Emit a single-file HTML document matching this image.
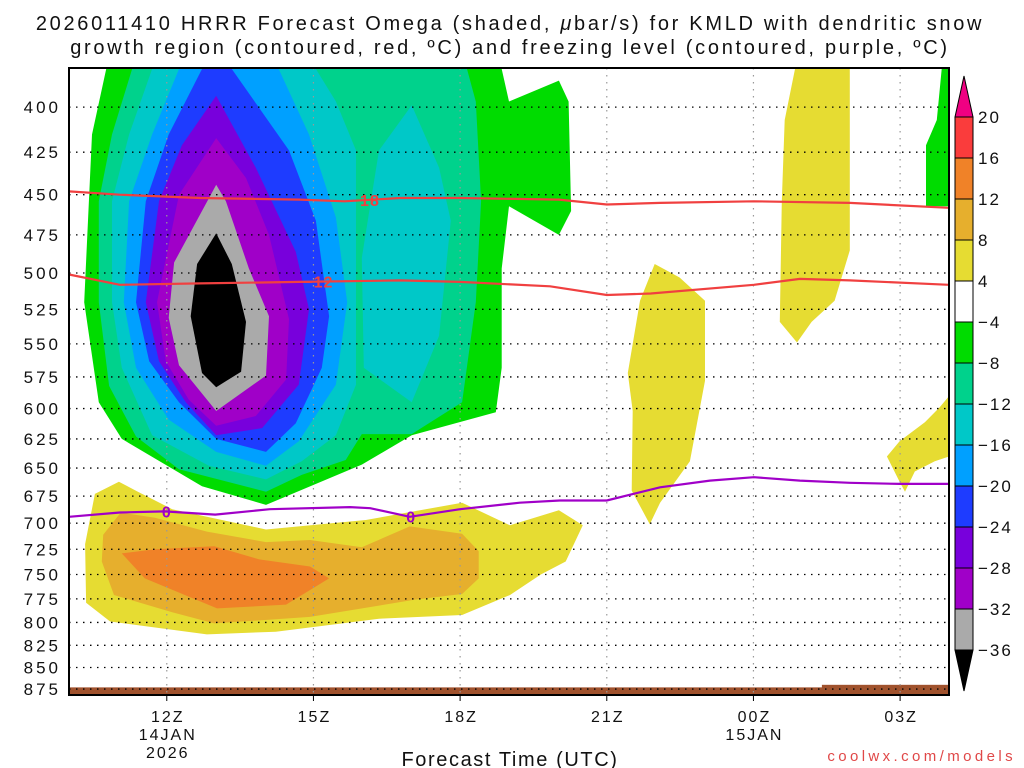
<!DOCTYPE html>
<html><head><meta charset="utf-8"><title>HRRR Omega KMLD</title>
<style>
html,body{margin:0;padding:0;background:#fff;}
svg{display:block;font-family:"Liberation Sans","DejaVu Sans",sans-serif;}
</style></head>
<body>
<svg id="chart" width="1024" height="768" viewBox="0 0 1024 768" xmlns="http://www.w3.org/2000/svg">
<g id="title" font-size="20" fill="#111" text-anchor="middle" letter-spacing="2.7">
<text x="510" y="30">2026011410 HRRR Forecast Omega (shaded, <tspan font-style="italic">μ</tspan>bar/s) for KMLD with dendritic snow</text>
<text x="510" y="54">growth region (contoured, red, ºC) and freezing level (contoured, purple, ºC)</text>
</g>
<g id="fills"></g>
<g id="grid"></g>
<g id="lines"></g>
<g id="axes"></g>
<g id="cbar"></g>
<text x="510" y="766" font-size="20" text-anchor="middle" fill="#111" letter-spacing="1.6">Forecast Time (UTC)</text>
<text x="1016" y="761" font-size="15" text-anchor="end" fill="#e04848" letter-spacing="3.4">coolwx.com/models</text>
</svg>
<script>
// ---- axis domain ----
const hourMin = 10, hourMax = 28;
const pTop = 379.5, pBot = 882;
const pressureTicks = [400,425,450,475,500,525,550,575,600,625,650,675,700,725,750,775,800,825,850,875];
const timeTicks = [12,15,18,21,24,27];
const timeLabels = [["12Z","14JAN","2026"],["15Z"],["18Z"],["21Z"],["00Z","15JAN"],["03Z"]];
// ---- shaded omega contour regions (hour, hPa) ----
const regGreen = [[10.76,380],[18.85,380],[19.0,397],[20.02,386],[20.22,397],[20.27,460],[20.02,475],[19.0,457],[18.85,497],[18.85,568],[18.73,603],[17.01,622],[15.99,647],[14.03,683],[12.72,666],[11.08,625],[10.61,595],[10.31,520],[10.47,415]];
const regGreenRight = [[27.85,380],[28,380],[28,457],[27.53,457],[27.53,421],[27.75,407]];
const regTeal = [[11.29,380],[18.14,380],[18.32,397],[18.43,454],[18.32,520],[18.04,595],[17.01,621],[15.99,621],[15.66,643],[14.76,656],[14.03,671],[12.25,651],[11.37,623],[10.82,582],[10.61,520],[10.61,454],[10.88,415]];
const regCyan = [[11.70,380],[15.05,380],[15.46,397],[15.87,424],[15.87,581],[15.46,622],[14.76,644],[14.03,660],[12.86,648],[11.70,622],[11.08,568],[10.88,520],[10.88,454],[11.23,415]];
const regCyanRight = [[17.01,399],[17.57,434],[17.81,466],[17.57,544],[17.01,595],[16.03,568],[15.99,490],[16.34,424]];
const regLightBlue = [[12.25,380],[14.29,380],[14.91,415],[15.46,464],[15.69,520],[15.46,581],[14.70,627],[14.03,648],[13.01,636],[12.04,609],[11.37,568],[11.12,520],[11.23,454],[11.70,415]];
const regBlue = [[12.72,380],[13.33,380],[14.50,424],[15.05,466],[15.32,530],[15.17,568],[14.64,612],[14.03,636],[13.01,625],[12.25,595],[11.64,563],[11.37,520],[11.57,454],[12.04,415]];
const regPurple = [[13.01,394],[13.82,434],[14.64,486],[14.91,525],[14.70,581],[13.95,616],[13.01,622],[12.39,595],[11.84,563],[11.57,520],[11.84,454],[12.31,421]];
const regViolet = [[13.01,417],[13.62,440],[14.09,475],[14.50,532],[14.44,577],[13.82,606],[13.01,614],[12.45,593],[11.98,563],[11.80,520],[12.25,450]];
const regGray = [[13.01,444],[13.21,454],[13.68,497],[14.09,530],[14.03,574],[13.01,602],[12.25,566],[12.04,531],[12.15,493]];
const regBlack = [[13.01,474],[13.33,494],[13.62,534],[13.52,571],[13.01,583],[12.72,572],[12.49,530],[12.62,494]];
const regYellow = [[11.02,662],[11.41,671],[12.11,687],[14.03,706],[16.07,697],[18.04,681],[19.02,702],[20.02,688],[20.51,702],[20.16,737],[19.65,750],[19.02,771],[18.04,792],[16.34,796],[14.23,810],[12.82,813],[10.84,799],[10.35,779],[10.33,720],[10.53,673]];
const regGold = [[11.06,690],[11.76,695],[12.82,708],[14.03,718],[14.93,716],[15.99,723],[16.97,703],[18.04,710],[18.38,727],[18.38,754],[18.04,770],[17.06,776],[14.93,794],[12.97,801],[12.11,789],[10.92,771],[10.67,737],[10.70,711]];
const regOrange = [[11.08,729],[11.76,725],[12.97,722],[13.89,735],[14.93,742],[15.32,754],[14.44,781],[13.03,785],[11.55,754]];
const regYellow21 = [[21.98,494],[22.49,503],[23.01,519],[23.01,578],[22.70,644],[22.09,681],[21.88,701],[21.51,670],[21.53,602],[21.43,572],[21.68,519]];
const regYellow01 = [[24.85,380],[25.97,380],[25.97,485],[25.66,519],[25.19,534],[24.89,549],[24.54,534],[24.58,454],[24.64,407]];
const regYellow03 = [[28,590],[28,640],[27.71,644],[27.30,653],[27.10,671],[26.99,662],[26.73,640],[26.99,627],[27.51,611],[27.81,599]];
// ---- contour lines (hour, hPa) ----
const lineFreezing = [[10,694],[11.04,690],[11.96,689],[12.99,692],[14.11,687],[15.75,685],[16.16,686],[16.97,694],[18.0,687],[19.22,681],[20.04,679],[21.0,679],[22.09,667],[23.11,661],[24.01,658],[24.95,661],[25.97,663],[26.99,664],[28,664]];
const lineM18 = [[10,448],[11.04,450],[12.68,452],[14.72,453],[15.64,454],[16.77,452],[18,452],[20.02,453],[21,456],[22.09,455],[24.01,454],[25.97,455],[28,458]];
const lineM12 = [[10,501],[11.04,508],[12.68,507],[14.72,506],[16.77,505],[18,506],[19.84,509],[21,515],[21.9,514],[24.01,508],[24.95,504],[25.97,505],[28,508]];
const freezingLabelHours = [12.0, 17.0];
const m18LabelHour = [16.05];
const m12LabelHour = [15.1];
// ---- colorbar ----
const cbarLevels = ["20","16","12","8","4","−4","−8","−12","−16","−20","−24","−28","−32","−36"];
const cbarColors = ["#fa3c3c","#f08228","#e6af2d","#e6dc32","#ffffff","#00dc00","#00d28c","#00c8c8","#00a0ff","#1e3cff","#7800dc","#a000c8","#aaaaaa"];

const X0=69, X1=949, Y0=68, Y1=695;
const NS="http://www.w3.org/2000/svg";
function xs(h){return X0+(h-hourMin)/(hourMax-hourMin)*(X1-X0);}
function ys(p){return Y0+Math.log(p/pTop)/Math.log(pBot/pTop)*(Y1-Y0);}
function mk(tag,attrs,parent){const e=document.createElementNS(NS,tag);for(const k in attrs)e.setAttribute(k,attrs[k]);parent.appendChild(e);return e;}
function pts(arr){return arr.map(d=>xs(d[0]).toFixed(1)+","+ys(d[1]).toFixed(1)).join(" ");}

const fills=document.getElementById("fills");
const clip=mk("clipPath",{id:"plotclip"},fills);
mk("rect",{x:X0,y:Y0,width:X1-X0,height:Y1-Y0},clip);
fills.setAttribute("clip-path","url(#plotclip)");
const regions=[
 [regGreen,"#00dc00","region-omega-minus4"],[regGreenRight,"#00dc00","region-omega-minus4-right"],
 [regTeal,"#00d28c","region-omega-minus8"],[regCyan,"#00c8c8","region-omega-minus12"],[regCyanRight,"#00c8c8","region-omega-minus12-right"],
 [regLightBlue,"#00a0ff","region-omega-minus16"],[regBlue,"#1e3cff","region-omega-minus20"],[regPurple,"#7800dc","region-omega-minus24"],
 [regViolet,"#a000c8","region-omega-minus28"],[regGray,"#aaaaaa","region-omega-minus32"],[regBlack,"#000000","region-omega-minus36"],
 [regYellow,"#e6dc32","region-omega-plus4"],[regGold,"#e6af2d","region-omega-plus8"],[regOrange,"#f08228","region-omega-plus12"],
 [regYellow21,"#e6dc32","region-omega-plus4-21z"],[regYellow01,"#e6dc32","region-omega-plus4-01z"],[regYellow03,"#e6dc32","region-omega-plus4-03z"]];
regions.forEach(r=>{
 const el=mk("polygon",{points:pts(r[0]),fill:r[1]},fills);
 
 
});
// ground
const g1=mk("rect",{x:X0,y:ys(873),width:X1-X0,height:Y1-ys(873),fill:"#a0522d"},fills);


const g2=mk("rect",{x:xs(25.4),y:ys(870),width:X1-xs(25.4),height:Y1-ys(870),fill:"#a0522d"},fills);



// grid
const grid=document.getElementById("grid");
pressureTicks.forEach(p=>{
 const l=mk("line",{x1:X0,x2:X1,y1:ys(p),y2:ys(p),stroke:"#000","stroke-width":1.3,"stroke-dasharray":"1.5 5.5"},grid);
 
 
});
timeTicks.forEach(h=>{
 const l=mk("line",{x1:xs(h),x2:xs(h),y1:Y0,y2:Y1,stroke:"#999","stroke-width":1.2,"stroke-dasharray":"1.5 5.5"},grid);
 
 
});

// contour lines
const lines=document.getElementById("lines");
function drawLine(arr,color,name,labHours,lab){
 const pl=mk("polyline",{points:pts(arr),fill:"none",stroke:color,"stroke-width":2.2},lines);
 
 
 labHours.forEach(h=>{
  let p=arr[0][1];
  for(let i=0;i<arr.length-1;i++){if(h>=arr[i][0]&&h<=arr[i+1][0]){const t=(h-arr[i][0])/(arr[i+1][0]-arr[i][0]);p=arr[i][1]+t*(arr[i+1][1]-arr[i][1]);}}
  const t=mk("text",{x:xs(h),y:ys(p)+6,"font-size":16,"font-weight":"bold","text-anchor":"middle",fill:color,"letter-spacing":1},lines);
  t.textContent=lab;
  
  
 });
}
drawLine(lineM18,"#f04040","contour-minus18",m18LabelHour,"−18");
drawLine(lineM12,"#f04040","contour-minus12",m12LabelHour,"−12");
drawLine(lineFreezing,"#a000c8","freezing-level-0c",freezingLabelHours,"0");

// axes
const axes=document.getElementById("axes");
const fr=mk("rect",{x:X0,y:Y0,width:X1-X0,height:Y1-Y0,fill:"none",stroke:"#000","stroke-width":2},axes);


pressureTicks.forEach(p=>{
 const t=mk("text",{x:61,y:ys(p)+6,"font-size":17,"text-anchor":"end",fill:"#111","letter-spacing":3},axes);
 t.textContent=p;
 
 
});
timeTicks.forEach((h,i)=>{
 mk("line",{x1:xs(h),x2:xs(h),y1:Y1,y2:Y1+6,stroke:"#000","stroke-width":1},axes);
 timeLabels[i].forEach((s,j)=>{
  const t=mk("text",{x:xs(h)+1,y:722+j*18,"font-size":16,"text-anchor":"middle",fill:"#111","letter-spacing":2},axes);
  t.textContent=s;
  
  
 });
});

// colorbar
const cb=document.getElementById("cbar");
const cx=955,cw=18,ctop=117,cstep=41;
const tri=mk("polygon",{points:`${cx},${ctop} ${cx+cw},${ctop} ${cx+cw/2},${ctop-41}`,fill:"#f00082",stroke:"#000","stroke-width":1},cb);


cbarColors.forEach((c,i)=>{
 const r=mk("rect",{x:cx,y:ctop+i*cstep,width:cw,height:cstep,fill:c,stroke:"#000","stroke-width":1},cb);
 
 
});
const ybot=ctop+cbarColors.length*cstep;
const tri2=mk("polygon",{points:`${cx},${ybot} ${cx+cw},${ybot} ${cx+cw/2},${ybot+41}`,fill:"#000",stroke:"#000","stroke-width":1},cb);


cbarLevels.forEach((s,i)=>{
 const t=mk("text",{x:978,y:ctop+i*cstep+6,"font-size":17,fill:"#111","letter-spacing":2},cb);
 t.textContent=s;
 
 
});
</script>
</body></html>
